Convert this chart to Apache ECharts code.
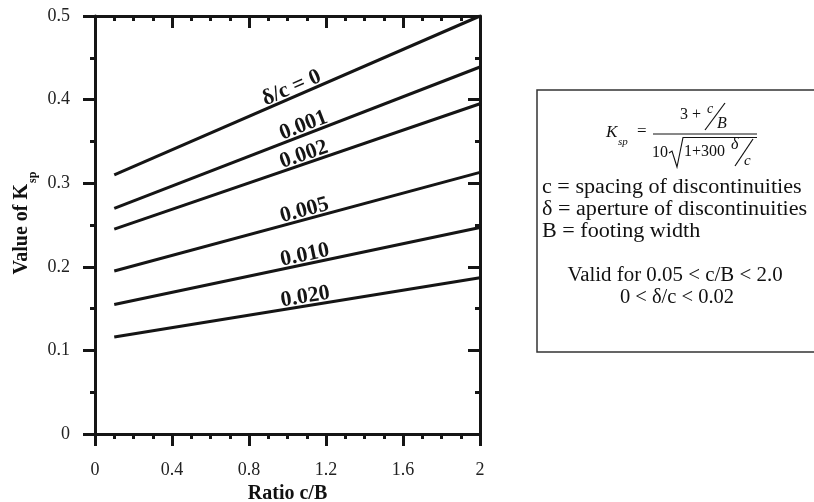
<!DOCTYPE html>
<html>
<head>
<meta charset="utf-8">
<script src="https://cdn.jsdelivr.net/npm/echarts@6/dist/echarts.min.js"></script>
<style>
html,body{margin:0;padding:0;background:#fff;}
#chart{width:814px;height:502px;}
</style>
</head>
<body>
<div id="chart"></div>
<script>
// ---- data ----
const ratioCB = [0.1, 2.0];                       // x values (c/B) of line ends
const seriesNames = ['δ/c = 0', '0.001', '0.002', '0.005', '0.010', '0.020'];
const kspD0    = [0.310, 0.500];
const ksp0001  = [0.270, 0.439];
const ksp0002  = [0.245, 0.395];
const ksp0005  = [0.195, 0.313];
const ksp0010  = [0.155, 0.247];
const ksp0020  = [0.116, 0.187];
const xTicks = [0, 0.4, 0.8, 1.2, 1.6, 2];
const yTicks = [0, 0.1, 0.2, 0.3, 0.4, 0.5];

// where (in c/B) each curve label sits along its line
const labelAnchorX = [1.04, 1.1, 1.1, 1.1, 1.1, 1.1];

const allSeries = [kspD0, ksp0001, ksp0002, ksp0005, ksp0010, ksp0020];
const SERIF = "'Liberation Serif','Times New Roman',serif";
const INK = '#151515';

const chart = echarts.init(document.getElementById('chart'), null, {renderer: 'canvas'});

const axisLineStyle = {color: INK, width: 3};
function xAx(pos, inside, labels) {
  return {
    type: 'value', position: pos, min: xTicks[0], max: xTicks[xTicks.length - 1],
    interval: xTicks[1] - xTicks[0],
    axisLine: {show: true, onZero: false, lineStyle: axisLineStyle},
    axisTick: {show: true, inside: inside, length: 12, lineStyle: {color: INK, width: 3}},
    minorTick: {show: true, splitNumber: 4, length: 5, lineStyle: {color: INK, width: 3}},
    splitLine: {show: false}, minorSplitLine: {show: false},
    axisLabel: {show: labels, margin: 27, fontSize: 18, fontFamily: SERIF, color: '#222'},
    name: labels ? 'Ratio c/B' : '', nameLocation: 'middle', nameGap: 47,
    nameTextStyle: {fontSize: 20, fontWeight: 'bold', fontFamily: SERIF, color: '#111'}
  };
}
function yAx(pos, inside, labels) {
  return {
    type: 'value', position: pos, min: yTicks[0], max: yTicks[yTicks.length - 1],
    interval: yTicks[1] - yTicks[0],
    axisLine: {show: true, onZero: false, lineStyle: axisLineStyle},
    axisTick: {show: true, inside: inside, length: 12, lineStyle: {color: INK, width: 3}},
    minorTick: {show: true, splitNumber: 2, length: 5, lineStyle: {color: INK, width: 3}},
    splitLine: {show: false}, minorSplitLine: {show: false},
    axisLabel: {show: labels, margin: 25, fontSize: 18, fontFamily: SERIF, color: '#222'}
  };
}

chart.setOption({
  animation: false,
  grid: {left: 95, top: 16, right: 334, bottom: 68, containLabel: false, outerBoundsMode: 'none'},
  xAxis: [xAx('bottom', false, true), xAx('top', true, false)],
  yAxis: [yAx('left', false, true), yAx('right', true, false)],
  series: allSeries.map((vals, i) => ({
    type: 'line', name: seriesNames[i], xAxisIndex: 0, yAxisIndex: 0,
    data: ratioCB.map((x, j) => [x, vals[j]]),
    showSymbol: false, silent: true,
    lineStyle: {color: INK, width: 3}
  }))
});

// ---- line labels placed on the lines via the chart's own scales ----
const labelGap = -2;
const graphics = [];
allSeries.forEach((vals, i) => {
  const ax = labelAnchorX[i];
  const t = (ax - ratioCB[0]) / (ratioCB[1] - ratioCB[0]);
  const yv = vals[0] + t * (vals[1] - vals[0]);
  const p = chart.convertToPixel({gridIndex: 0}, [ax, yv]);
  const p0 = chart.convertToPixel({gridIndex: 0}, [ratioCB[0], vals[0]]);
  const p1 = chart.convertToPixel({gridIndex: 0}, [ratioCB[1], vals[1]]);
  const ang = Math.atan2(p0[1] - p1[1], p1[0] - p0[0]);
  graphics.push({
    type: 'text', x: p[0], y: p[1], rotation: ang, silent: true,
    style: {text: seriesNames[i], x: 0, y: -labelGap,
      textAlign: 'center', textVerticalAlign: 'bottom', align: 'center', verticalAlign: 'bottom',
      font: "bold 22px 'Liberation Serif','Times New Roman',serif", fill: INK}
  });
});

// ---- y axis title with subscript ----
graphics.push({
  type: 'group', x: 22, y: 224, rotation: Math.PI / 2, silent: true,
  children: [
    {type: 'text', style: {text: 'Value of K', x: 40, y: 0, textAlign: 'right', align: 'right',
      textVerticalAlign: 'middle', verticalAlign: 'middle',
      font: "bold 20px 'Liberation Serif','Times New Roman',serif", fill: '#111'}},
    {type: 'text', style: {text: 'sp', x: 41, y: 11, textAlign: 'left', align: 'left',
      textVerticalAlign: 'middle', verticalAlign: 'middle',
      font: "bold 12px 'Liberation Serif','Times New Roman',serif", fill: '#111'}}
  ]
});

// ---- legend / formula box ----
function txt(s, x, y, font, align, sx) {
  return {type: 'text', silent: true, x: x, y: y, scaleX: sx || 1,
    style: {text: s, x: 0, y: 0,
    textAlign: align || 'left', align: align || 'left',
    textVerticalAlign: 'middle', verticalAlign: 'middle', font: font, fill: '#111'}};
}
function seg(pts, w) {
  return {type: 'polyline', silent: true, shape: {points: pts},
    style: {stroke: '#111', lineWidth: w || 1, fill: null}};
}
const F = "16px 'Liberation Serif','Times New Roman',serif";
const FI = "italic 16px 'Liberation Serif','Times New Roman',serif";
const FT = "20.5px 'Liberation Serif','Times New Roman',serif";
graphics.push(
  {type: 'rect', silent: true, shape: {x: 537, y: 90, width: 290, height: 262},
    style: {stroke: '#333', lineWidth: 1.5, fill: '#fff'}},
  txt('K', 606, 133, "italic 17px 'Liberation Serif','Times New Roman',serif"),
  txt('sp', 618, 142, "italic 11px 'Liberation Serif','Times New Roman',serif"),
  txt('=', 637, 132, "17px 'Liberation Serif','Times New Roman',serif"),
  seg([[653, 134], [757, 134]], 1),
  txt('3 +', 680, 115, F),
  txt('c', 707, 109, "italic 14px 'Liberation Serif','Times New Roman',serif"),
  seg([[705, 130], [725, 103]], 1.2),
  txt('B', 717, 124, FI),
  txt('10', 652, 153, F),
  seg([[669, 153], [672, 151], [677, 167], [683, 137.5], [757, 137.5]], 1.1),
  txt('1+300', 684, 152, F),
  txt('δ', 731, 145, FI),
  seg([[735, 166], [753, 139]], 1.2),
  txt('c', 744, 161, "italic 15px 'Liberation Serif','Times New Roman',serif"),
  txt('c = spacing of discontinuities', 542, 188, FT, 'left', 1.08),
  txt('δ = aperture of discontinuities', 542, 210, FT, 'left', 1.08),
  txt('B = footing width', 542, 232, FT, 'left', 1.08),
  txt('Valid for 0.05 < c/B < 2.0', 675, 276, FT, 'center', 1.02),
  txt('0 < δ/c < 0.02', 677, 298, FT, 'center')
);

chart.setOption({graphic: {elements: graphics}});
</script>
</body>
</html>
